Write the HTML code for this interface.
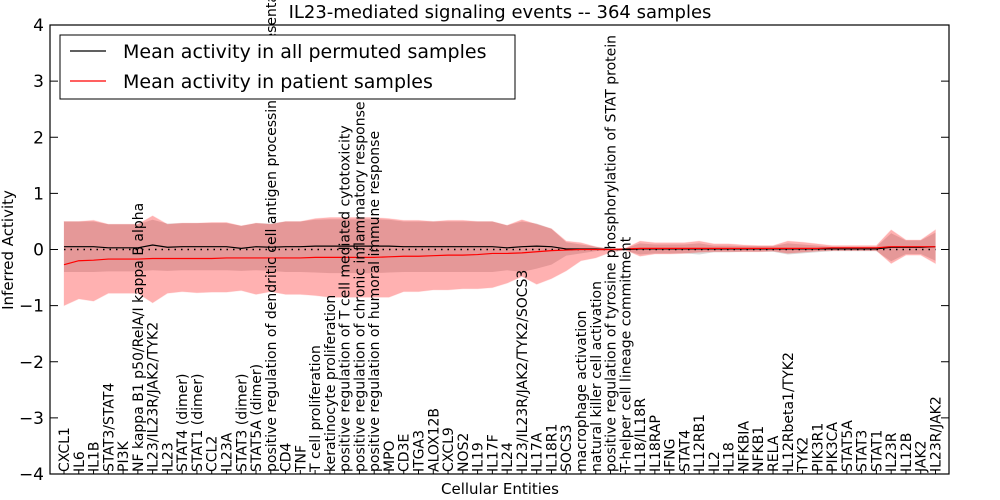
<!DOCTYPE html>
<html><head><meta charset="utf-8"><style>
html,body{margin:0;padding:0;background:#fff;}
svg{display:block;font-family:"DejaVu Sans","Liberation Sans",sans-serif;}
</style></head><body>
<svg id="chart" width="1000" height="500" viewBox="0 0 1000 500">
<rect width="1000" height="500" fill="#fff"/>
<g id="plot"></g>
</svg>
<script>
const categories=["CXCL1","IL6","IL1B","STAT3/STAT4","PI3K","NF kappa B1 p50/RelA/I kappa B alpha","IL23/IL23R/JAK2/TYK2","IL23","STAT4 (dimer)","STAT1 (dimer)","CCL2","IL23A","STAT3 (dimer)","STAT5A (dimer)","positive regulation of dendritic cell antigen processing and presentation","CD4","TNF","T cell proliferation","keratinocyte proliferation","positive regulation of T cell mediated cytotoxicity","positive regulation of chronic inflammatory response","positive regulation of humoral immune response","MPO","CD3E","ITGA3","ALOX12B","CXCL9","NOS2","IL19","IL17F","IL24","IL23/IL23R/JAK2/TYK2/SOCS3","IL17A","IL18R1","SOCS3","macrophage activation","natural killer cell activation","positive regulation of tyrosine phosphorylation of STAT protein","T-helper cell lineage commitment","IL18/IL18R","IL18RAP","IFNG","STAT4","IL12RB1","IL2","IL18","NFKBIA","NFKB1","RELA","IL12Rbeta1/TYK2","TYK2","PIK3R1","PIK3CA","STAT5A","STAT3","STAT1","IL23R","IL12B","JAK2","IL23R/JAK2"];
const patientMean=[-0.27,-0.2,-0.19,-0.17,-0.17,-0.17,-0.16,-0.16,-0.16,-0.16,-0.16,-0.15,-0.15,-0.15,-0.15,-0.15,-0.15,-0.14,-0.14,-0.14,-0.14,-0.14,-0.13,-0.12,-0.12,-0.11,-0.1,-0.1,-0.09,-0.07,-0.07,-0.06,-0.04,-0.02,-0.01,0,0,0,0.01,0.02,0.02,0.02,0.02,0.02,0.02,0.02,0.02,0.02,0.02,0.02,0.02,0.02,0.03,0.03,0.03,0.03,0.05,0.05,0.05,0.05];
const patientUpper=[0.5,0.5,0.52,0.45,0.45,0.45,0.6,0.45,0.47,0.47,0.48,0.48,0.42,0.47,0.45,0.5,0.5,0.55,0.57,0.57,0.57,0.57,0.55,0.52,0.52,0.5,0.52,0.52,0.5,0.5,0.43,0.53,0.45,0.37,0.15,0.12,0.05,0.01,0.02,0.15,0.12,0.12,0.12,0.15,0.1,0.1,0.08,0.07,0.07,0.15,0.13,0.1,0.07,0.07,0.07,0.07,0.35,0.17,0.17,0.35];
const patientLower=[-1.0,-0.88,-0.92,-0.78,-0.78,-0.78,-0.95,-0.78,-0.75,-0.77,-0.76,-0.76,-0.73,-0.8,-0.75,-0.8,-0.8,-0.82,-0.85,-0.85,-0.85,-0.85,-0.85,-0.75,-0.75,-0.72,-0.72,-0.7,-0.7,-0.68,-0.6,-0.48,-0.62,-0.52,-0.38,-0.2,-0.15,-0.05,-0.01,-0.12,-0.08,-0.08,-0.07,-0.05,-0.04,-0.04,-0.04,-0.04,-0.03,-0.07,-0.05,-0.03,-0.02,-0.02,-0.02,-0.02,-0.25,-0.1,-0.1,-0.25];
const permMean=[0.05,0.05,0.05,0.03,0.03,0.03,0.08,0.04,0.05,0.05,0.05,0.05,0.02,0.05,0.04,0.05,0.05,0.06,0.06,0.06,0.06,0.06,0.06,0.05,0.05,0.05,0.05,0.05,0.05,0.05,0.03,0.05,0.06,0.05,0.01,0.01,0.01,0,0,0.01,0.01,0.01,0.01,0.01,0.01,0.01,0.01,0.01,0.01,0.01,0.01,0.01,0.01,0.01,0.01,0.01,0.04,0.04,0.04,0.05];
const permSpread=[0.45,0.45,0.45,0.42,0.42,0.42,0.45,0.42,0.42,0.42,0.42,0.42,0.4,0.42,0.42,0.45,0.45,0.47,0.48,0.48,0.48,0.48,0.47,0.45,0.45,0.45,0.45,0.45,0.45,0.45,0.4,0.45,0.4,0.32,0.12,0.08,0.04,0.01,0.02,0.1,0.08,0.08,0.08,0.1,0.06,0.06,0.05,0.05,0.05,0.1,0.08,0.06,0.04,0.04,0.04,0.04,0.25,0.12,0.12,0.25];
const yTicks=[-4,-3,-2,-1,0,1,2,3,4];
const yTickLabels=["\u22124","\u22123","\u22122","\u22121","0","1","2","3","4"];

const L=50,R=949,T=25,B=474;
const x0=64,x1=935.5;
const xs=i=>x0+i*(x1-x0)/(categories.length-1);
const ys=v=>B-(v+4)*(B-T)/8;
const NS="http://www.w3.org/2000/svg";
const plot=document.getElementById('plot');
function mk(tag,attrs,parent){const e=document.createElementNS(NS,tag);for(const k in attrs)e.setAttribute(k,attrs[k]);(parent||plot).appendChild(e);return e;}
function band(up,lo){let d='';up.forEach((v,i)=>{d+=(i?'L':'M')+xs(i)+','+ys(v);});for(let i=lo.length-1;i>=0;i--)d+='L'+xs(i)+','+ys(lo[i]);return d+'Z';}
function line(arr){return arr.map((v,i)=>(i?'L':'M')+xs(i)+','+ys(v)).join('');}

const gray=mk('path',{d:band(permMean.map((m,i)=>m+permSpread[i]),permMean.map((m,i)=>m-permSpread[i])),fill:'#999',opacity:'0.35'});


const red=mk('path',{d:band(patientUpper,patientLower),fill:'#ff0000',opacity:'0.3',stroke:'#ff0000','stroke-opacity':'0.3'});


const zl=mk('line',{x1:x0,x2:x1,y1:ys(0),y2:ys(0),stroke:'#000','stroke-width':'1.5','stroke-dasharray':'1.5,5'});


const bl=mk('path',{d:line(permMean),fill:'none',stroke:'#000','stroke-width':'1.2'});


const rl=mk('path',{d:line(patientMean),fill:'none',stroke:'#ff0000','stroke-width':'1.2'});



categories.forEach((c,i)=>{
  const t=mk('text',{transform:`translate(${xs(i)+5},472) rotate(-90)`,'font-size':'14',fill:'#000'});
  t.textContent=c;
  
  
  const tk=mk('line',{x1:xs(i),x2:xs(i),y1:B,y2:B-4,stroke:'#000'});
  
  
});
yTicks.forEach((v,i)=>{
  const a=mk('line',{x1:L,x2:L+8,y1:ys(v),y2:ys(v),stroke:'#000'});
  
  
  const b=mk('line',{x1:R,x2:R-8,y1:ys(v),y2:ys(v),stroke:'#000'});
  
  
  const t=mk('text',{x:L-6,y:ys(v)+6,'font-size':'17','text-anchor':'end',fill:'#000'});
  t.textContent=yTickLabels[i];
  
  
});
const frame=mk('rect',{x:L,y:T,width:R-L,height:B-T,fill:'none',stroke:'#000','stroke-width':'1.2'});



const lg=mk('g',{});


mk('rect',{x:60,y:35,width:455,height:64,fill:'#fff',stroke:'#000'},lg);
mk('line',{x1:70,x2:106,y1:51,y2:51,stroke:'#000','stroke-width':'1.2'},lg);
mk('line',{x1:70,x2:106,y1:81,y2:81,stroke:'#ff0000','stroke-width':'1.2'},lg);
const l1=mk('text',{x:123,y:58,'font-size':'19',fill:'#000'},lg);
l1.textContent='Mean activity in all permuted samples';


const l2=mk('text',{x:123,y:88,'font-size':'19',fill:'#000'},lg);
l2.textContent='Mean activity in patient samples';



const ttl=mk('text',{x:500,y:18,'font-size':'18','text-anchor':'middle',fill:'#000'});
ttl.textContent='IL23-mediated signaling events -- 364 samples';


const xt=mk('text',{x:500,y:494,'font-size':'15','text-anchor':'middle',fill:'#000'});
xt.textContent='Cellular Entities';


const yt=mk('text',{transform:'translate(13,250) rotate(-90)','font-size':'15','text-anchor':'middle',fill:'#000'});
yt.textContent='Inferred Activity';


</script>
</body></html>
